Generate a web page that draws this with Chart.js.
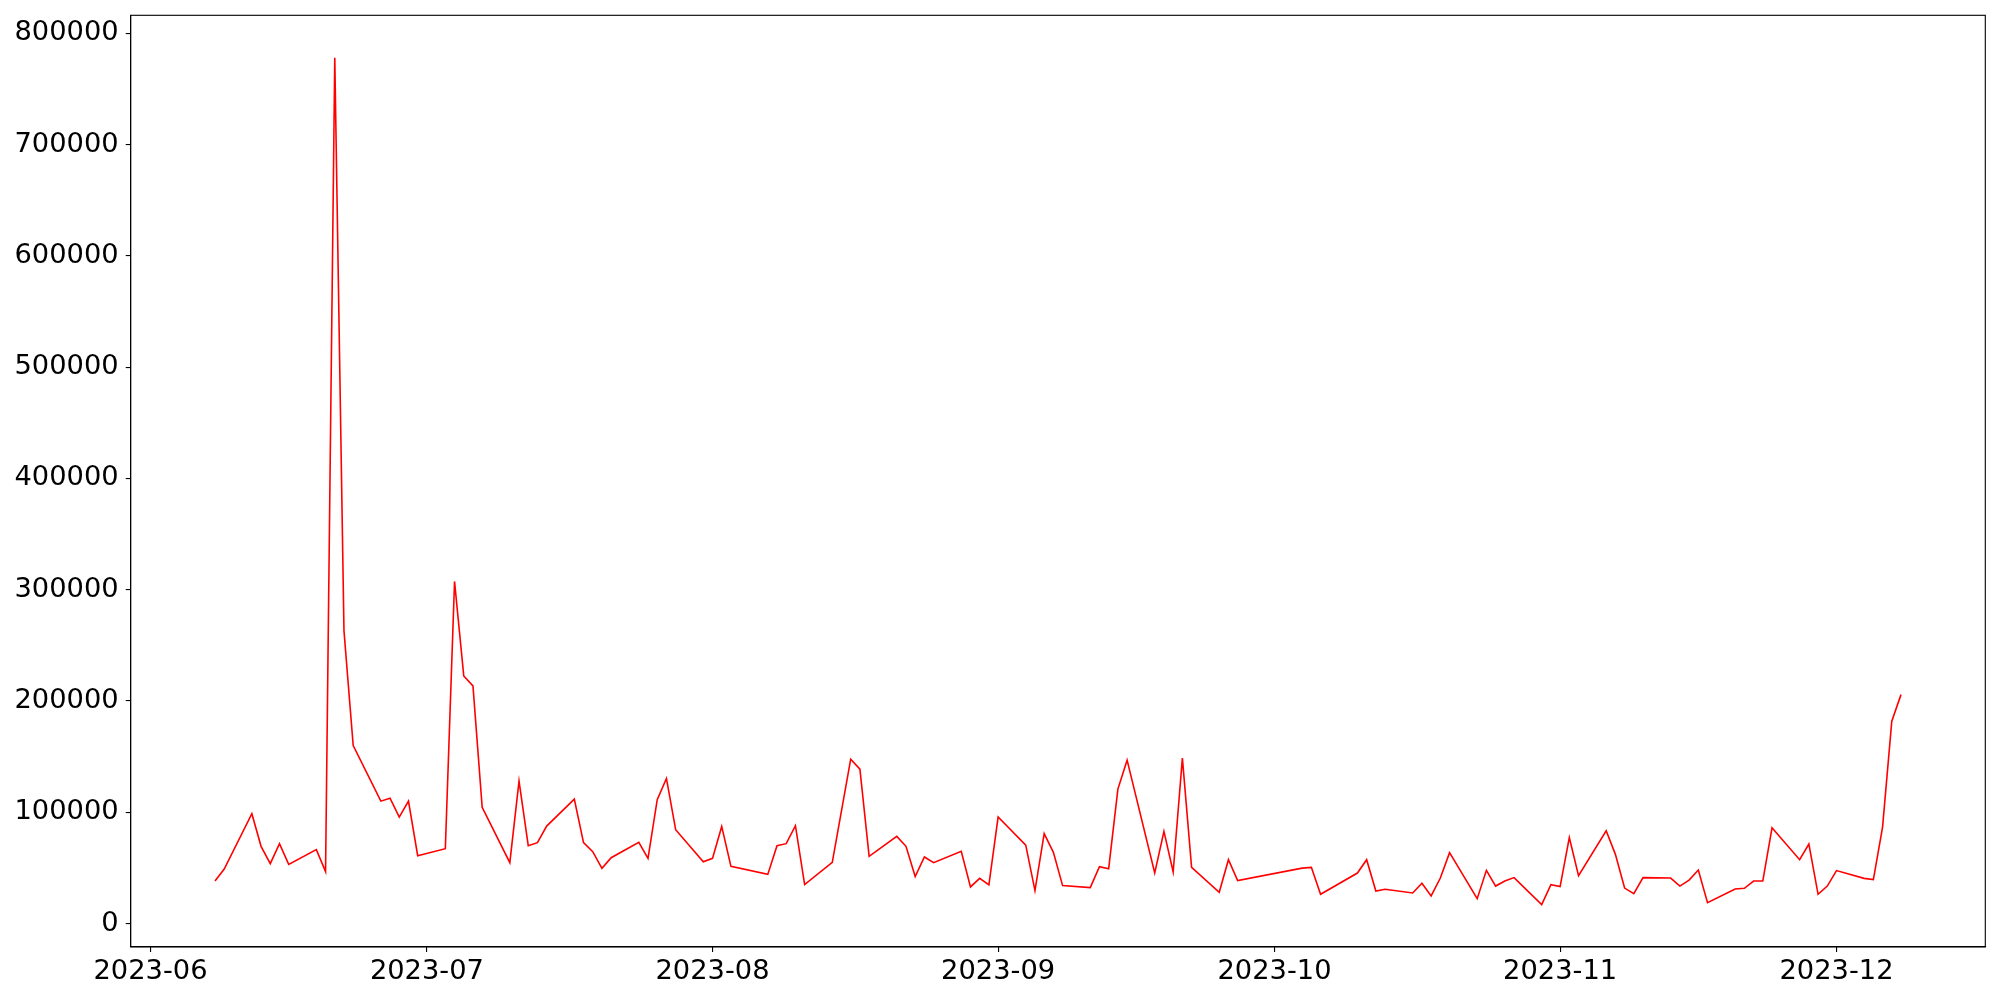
<!DOCTYPE html>
<html><head><meta charset="utf-8">
<script src="https://cdn.jsdelivr.net/npm/chart.js@4.4.0/dist/chart.umd.min.js"></script>
<style>html,body{margin:0;padding:0;background:#fff;overflow:hidden}</style>
</head><body>
<canvas id="c" width="2000" height="1000" style="width:2000px;height:1000px;display:block"></canvas>
<script>
const dates = [
'2023-06-08','2023-06-09','2023-06-12','2023-06-13','2023-06-14','2023-06-15','2023-06-16',
'2023-06-19','2023-06-20','2023-06-21','2023-06-22','2023-06-23',
'2023-06-26','2023-06-27','2023-06-28','2023-06-29','2023-06-30',
'2023-07-03','2023-07-04','2023-07-05','2023-07-06','2023-07-07',
'2023-07-10','2023-07-11','2023-07-12','2023-07-13','2023-07-14',
'2023-07-17','2023-07-18','2023-07-19','2023-07-20','2023-07-21',
'2023-07-24','2023-07-25','2023-07-26','2023-07-27','2023-07-28',
'2023-07-31','2023-08-01','2023-08-02','2023-08-03',
'2023-08-07','2023-08-08','2023-08-09','2023-08-10','2023-08-11',
'2023-08-14','2023-08-16','2023-08-17','2023-08-18',
'2023-08-21','2023-08-22','2023-08-23','2023-08-24','2023-08-25',
'2023-08-28','2023-08-29','2023-08-30','2023-08-31','2023-09-01',
'2023-09-04','2023-09-05','2023-09-06','2023-09-07','2023-09-08',
'2023-09-11','2023-09-12','2023-09-13','2023-09-14','2023-09-15',
'2023-09-18','2023-09-19','2023-09-20','2023-09-21','2023-09-22',
'2023-09-25','2023-09-26','2023-09-27',
'2023-10-04','2023-10-05','2023-10-06',
'2023-10-10','2023-10-11','2023-10-12','2023-10-13',
'2023-10-16','2023-10-17','2023-10-18','2023-10-19','2023-10-20',
'2023-10-23','2023-10-24','2023-10-25','2023-10-26','2023-10-27',
'2023-10-30','2023-10-31','2023-11-01','2023-11-02','2023-11-03',
'2023-11-06','2023-11-07','2023-11-08','2023-11-09','2023-11-10',
'2023-11-13','2023-11-14','2023-11-15','2023-11-16','2023-11-17',
'2023-11-20','2023-11-21','2023-11-22','2023-11-23','2023-11-24',
'2023-11-27','2023-11-28','2023-11-29','2023-11-30','2023-12-01',
'2023-12-04','2023-12-05','2023-12-06','2023-12-07','2023-12-08'
];
const values = [
38200,49000,98700,69400,53800,71800,53200,
66400,46700,778000,263000,160000,
110000,112700,95700,110000,61000,
67300,307400,222500,213500,104400,
54700,128000,70000,72700,87600,
111800,72700,64600,49600,59200,
73000,58600,111300,130400,84300,
55600,58600,87300,51400,
44200,70000,71800,87900,35000,
55000,147700,138700,60400,
78300,69400,42200,59800,54700,
64900,32900,40600,34700,95700,
70500,29600,80800,64000,34100,
32300,51100,49300,120800,146800,
45400,82800,46300,148600,50500,
28100,57400,38600,
49800,50500,26300,
45400,57400,29300,30800,
27500,36200,24800,40900,63700,
22400,47800,33700,38200,41300,
17000,35000,33200,77200,43100,
83400,62200,31900,26900,41300,
40900,33700,39100,48100,18800,
31000,31700,38200,38200,86100,
57400,71400,26300,33700,47600,
40600,39500,86700,181800,205700
];
const yTickValues = [0,100000,200000,300000,400000,500000,600000,700000,800000];
const xTickDates = ['2023-06-01','2023-07-01','2023-08-01','2023-09-01','2023-10-01','2023-11-01','2023-12-01'];

const xs = dates.map(d => Date.parse(d));
const points = xs.map((x, i) => ({x: x, y: values[i]}));
const xSpan = Math.max(...xs) - Math.min(...xs);
const xMin = Math.min(...xs) - 0.05 * xSpan, xMax = Math.max(...xs) + 0.05 * xSpan;
const ySpan = Math.max(...values) - Math.min(...values);
const yMin = Math.min(...values) - 0.05 * ySpan, yMax = Math.max(...values) + 0.05 * ySpan;

const FONT = {family: 'DejaVu Sans', size: 27.3};

const frame = {
  id: 'frame',
  afterDraw(chart) {
    const a = chart.chartArea, ctx = chart.ctx;
    ctx.save();
    ctx.strokeStyle = '#000';
    ctx.lineWidth = 1.1;
    ctx.strokeRect(a.left, a.top, a.right - a.left, a.bottom - a.top);
    ctx.restore();
  }
};

new Chart(document.getElementById('c'), {
  type: 'line',
  data: {datasets: [{data: points, borderColor: '#ff0000', borderWidth: 1.6, pointRadius: 0, tension: 0, fill: false}]},
  options: {
    responsive: false, animation: false, devicePixelRatio: 1,
    layout: {padding: {top: 15.3, right: 14.7, left: 0, bottom: 0}},
    plugins: {legend: {display: false}, tooltip: {enabled: false}},
    scales: {
      x: {
        type: 'linear', min: xMin, max: xMax,
        afterBuildTicks: s => { s.ticks = xTickDates.map(d => ({value: Date.parse(d)})); },
        afterFit: s => { s.height = 53; s.paddingLeft = 0; s.paddingRight = 0; },
        ticks: {
          autoSkip: false, maxRotation: 0, color: '#000', font: FONT, padding: 4,
          callback: v => { const d = new Date(v); return d.getUTCFullYear() + '-' + String(d.getUTCMonth() + 1).padStart(2, '0'); }
        },
        grid: {drawOnChartArea: false, drawTicks: true, tickLength: 5, color: '#000', lineWidth: 1.1},
        border: {display: true, color: '#000', width: 1.1}
      },
      y: {
        type: 'linear', min: yMin, max: yMax,
        afterBuildTicks: s => { s.ticks = yTickValues.map(v => ({value: v})); },
        afterFit: s => { s.width = 130.7; s.paddingTop = 0; s.paddingBottom = 0; },
        ticks: {color: '#000', font: FONT, padding: 7, callback: v => String(v)},
        grid: {drawOnChartArea: false, drawTicks: true, tickLength: 5, color: '#000', lineWidth: 1.1},
        border: {display: true, color: '#000', width: 1.1}
      }
    }
  },
  plugins: [frame]
});
</script>
</body></html>
